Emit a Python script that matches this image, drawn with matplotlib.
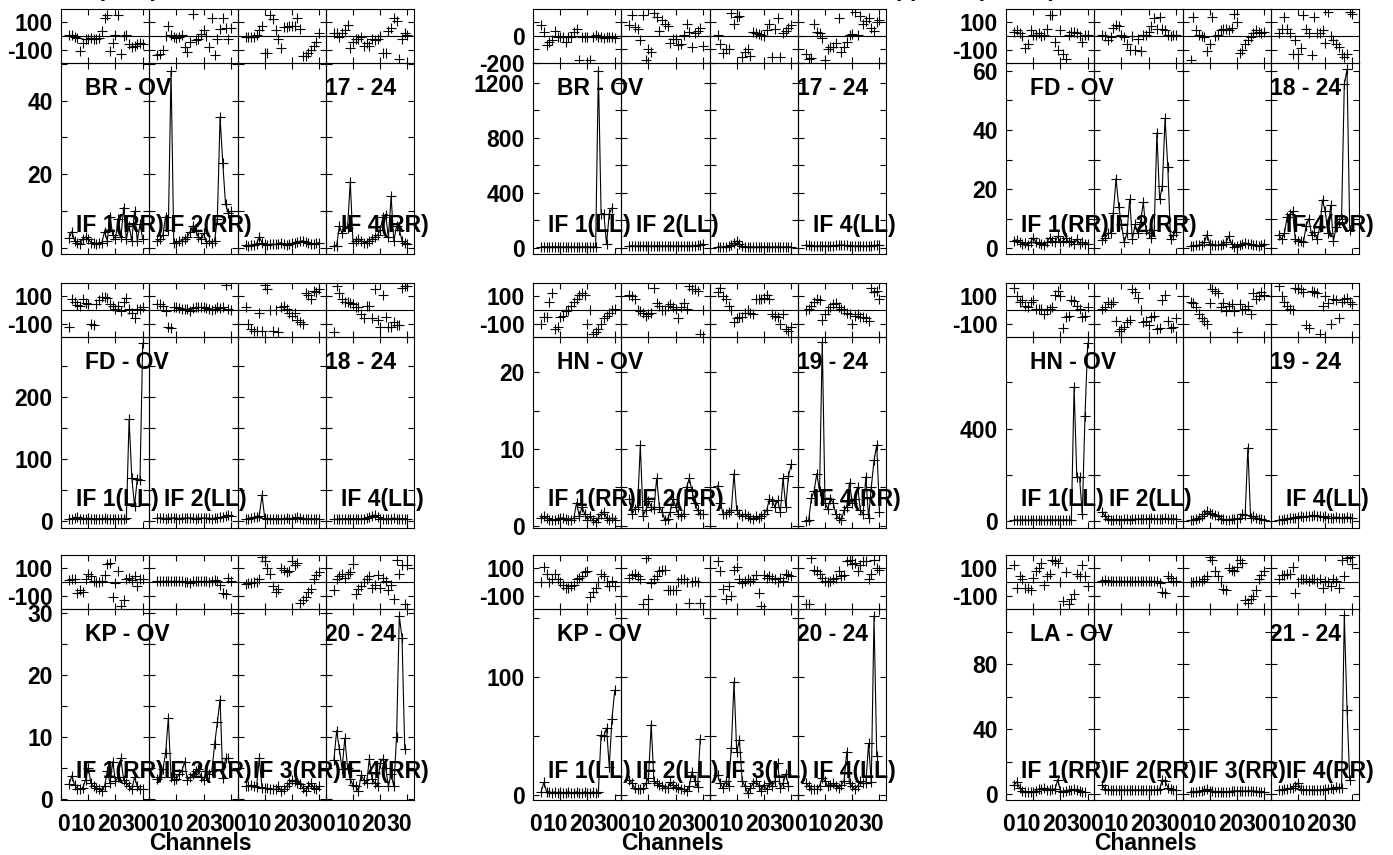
import numpy as np
import matplotlib.pyplot as plt
import matplotlib.transforms as mtransforms

plt.rcParams['font.family'] = ['Liberation Sans', 'DejaVu Sans']
plt.rcParams['font.weight'] = 'bold'

# Canaux et IF
first_channel = 3
if_names = ['IF 1', 'IF 2', 'IF 3', 'IF 4']

# BR - OV, RR
br_ov_rr_amp = [
    [2.7, 4.5, 2.0, 1.5, 1.0, 2.5, 3.0, 2.5, 1.5, 1.5, 1.2, 1.5, 1.5, 4.5, 2.0, 8.5, 3.5, 2.5, 8.0, 3.0, 11.0, 2.5, 6.0, 2.0, 10.0, 2.0, 6.5, 2.5],
    [1.8, 2.5, 3.5, 8.5, 5.0, 48.0, 1.5, 1.5, 1.8, 2.0, 2.5, 3.0, 4.5, 6.0, 5.0, 3.0, 2.5, 4.0, 1.5, 2.0, 1.5, 2.0, 8.0, 35.5, 23.0, 12.0, 9.5, 10.0],
    [0.8, 0.7, 0.8, 0.9, 1.2, 3.0, 1.5, 1.0, 0.9, 1.0, 1.1, 1.0, 1.2, 1.5, 1.0, 0.8, 1.1, 1.3, 1.5, 1.6, 1.8, 2.0, 1.7, 1.5, 1.2, 1.0, 1.3, 1.5],
    [0.6, 0.7, 6.0, 4.0, 6.0, 5.5, 18.0, 1.5, 2.0, 2.5, 2.0, 1.5, 1.5, 2.0, 2.5, 3.0, 3.5, 5.0, 8.5, 9.0, 3.0, 14.0, 2.0, 6.0, 5.0, 2.0, 1.5, 1.0],
]
br_ov_rr_phase = [
    [10, 10, -5, -15, -110, -50, -25, -20, -15, -20, -25, -15, 35, 130, 150, -110, -50, 5, 155, -130, 0, 5, -55, -80, -75, -60, -50, -55],
    [-135, -130, -100, 0, 70, 10, -5, -15, -10, 5, -80, -115, -40, 160, -30, -20, 15, 40, 0, -80, 130, -140, -20, 50, 130, 60, -20, 60],
    [-10, -10, -10, -10, 10, 40, 70, -120, -120, 150, 120, 40, -25, -85, 65, 65, 70, 70, 75, 130, 50, -145, -145, -120, -100, -70, -40, 20],
    [25, 25, -10, 25, 40, 80, -85, -40, -25, -20, -5, -75, -50, -75, -20, -30, -20, 0, -120, -125, 35, 60, 130, 105, -165, -20, 20, 10],
]

# BR - OV, LL
br_ov_ll_amp = [
    [8, 9, 8, 7, 8, 9, 8, 8, 7, 8, 8, 9, 8, 7, 8, 8, 9, 8, 8, 7, 8, 1290, 250, 250, 30, 250, 290],
    [15, 16, 15, 14, 15, 16, 15, 15, 14, 15, 16, 15, 14, 15, 15, 16, 15, 14, 15, 15, 16, 15, 14, 15, 16, 18, 22, 30],
    [8, 7, 8, 10, 14, 22, 35, 50, 30, 12, 8, 7, 8, 8, 7, 8, 8, 9, 8, 7, 8, 8, 9, 8, 7, 8, 8, 8],
    [20, 18, 15, 12, 15, 14, 16, 15, 14, 15, 16, 18, 20, 22, 20, 18, 16, 15, 14, 15, 16, 15, 14, 15, 16, 18, 20, 22],
]
br_ov_ll_phase = [
    [80, 30, -70, -45, -30, 40, -10, -10, -10, -45, -5, -5, 30, 55, -180, -5, -5, -5, -175, -5, 10, -5, -10, -15, -10, -5, -10, -15],
    [80, 155, 70, 55, -30, 155, -180, -100, -120, 170, 140, 40, 120, 90, 75, -50, -20, -25, -70, -60, 10, 90, 30, -80, 20, 40, 60, -75],
    [5, -58, -128, -100, -100, 168, 92, 140, 150, -152, -120, -95, -145, 30, 22, 18, 8, 0, 42, 90, -158, 55, 130, -158, 20, 40, 60, 80],
    [-132, -170, -162, 88, 30, 22, -12, -180, -95, -85, -82, -55, 130, -120, -85, -45, 5, 18, 180, 5, 150, 90, 110, 130, 60, 40, 100, 120],
]

# FD - OV, RR
fd_ov_rr_amp = [
    [2.5, 2.8, 2.0, 1.5, 1.8, 1.2, 2.0, 3.5, 2.0, 1.8, 1.5, 1.2, 2.0, 3.5, 2.5, 2.0, 4.0, 2.0, 2.5, 3.5, 2.0, 2.5, 1.5, 3.0, 1.5, 2.0, 1.5, 1.5],
    [2.8, 3.5, 5.0, 5.0, 12.0, 23.5, 14.0, 8.0, 2.0, 5.0, 16.5, 3.0, 8.0, 5.0, 9.0, 15.5, 6.0, 5.0, 3.5, 6.0, 39.0, 16.5, 21.0, 44.0, 27.5, 3.0, 4.5, 5.5],
    [0.8, 0.8, 0.9, 1.0, 1.2, 2.0, 4.5, 1.5, 1.2, 1.0, 1.0, 1.2, 1.5, 2.0, 4.0, 1.5, 0.5, 0.6, 1.0, 1.5, 1.8, 1.5, 1.3, 1.2, 1.0, 0.8, 1.0, 1.5],
    [4.5, 3.0, 5.0, 10.5, 11.5, 12.5, 3.0, 2.5, 2.5, 2.0, 7.5, 10.0, 4.5, 5.5, 3.0, 7.0, 16.3, 12.5, 5.0, 14.5, 2.5, 7.0, 9.0, 10.0, 55.5, 60.5, 6.0],
]
fd_ov_rr_phase = [
    [30, 40, 20, 0, -90, -60, 40, 10, 10, 20, 0, 10, 50, 150, 150, -40, -100, 40, -130, -165, 10, 30, 30, 20, 0, -40, 5, 5],
    [5, 0, -30, -10, 60, 80, 70, 10, -10, -60, -100, 0, -100, -20, -110, 5, 10, 30, 70, 130, 50, 140, 50, 40, 5, 0, 5, 5],
    [-170, 135, 40, 10, 0, -10, -110, -55, 135, 0, 10, 40, 50, 50, 40, 60, 160, 100, -125, -100, -60, -30, -10, 20, 40, 30, 20, 30],
    [20, 50, 140, 50, 20, -130, -30, -130, -90, 150, 50, 20, -140, 140, 20, 20, 40, -50, 170, 0, -30, -60, -80, -130, -150, -130, 170, 160],
]

# FD - OV, LL
fd_ov_ll_amp = [
    [4, 4, 5, 6, 4, 4, 4, 5, 4, 4, 4, 4, 4, 5, 4, 4, 4, 4, 4, 4, 4, 5, 164, 70, 25, 68, 66, 287],
    [5, 5, 5, 4, 5, 5, 5, 5, 4, 5, 5, 5, 5, 5, 4, 5, 5, 5, 5, 5, 4, 5, 5, 6, 7, 9, 10, 8],
    [3, 4, 5, 6, 7, 9, 42, 5, 4, 4, 4, 4, 4, 4, 4, 5, 4, 4, 5, 6, 5, 4, 4, 4, 4, 4, 4, 4],
    [3, 3, 4, 4, 4, 4, 4, 4, 4, 4, 4, 4, 5, 6, 8, 10, 7, 4, 4, 4, 4, 4, 5, 4, 4, 4, 4, 4],
]
fd_ov_ll_phase = [
    [-125, 80, 55, 35, 30, 80, 50, 40, -100, -105, 40, 75, 95, 95, 90, 40, 30, 10, 30, -10, 60, 85, 10, -25, -55, 10, 10, 20],
    [40, 40, 30, -10, -120, -130, 20, 20, 15, 10, 10, 5, -10, 15, 20, 20, 20, 20, 15, 10, 0, 10, 20, 15, 20, 180, 10, 0],
    [25, -100, -140, -150, -150, -20, -150, 180, 150, 0, -150, 0, -160, 20, 30, 10, -20, -40, -20, -70, -90, -100, 120, 110, 80, 140, 130, 150],
    [-160, 170, 120, 80, 60, 60, 50, 40, 20, 20, -30, -60, 30, 30, -60, 150, -70, -120, 110, -50, -120, -120, -90, -110, -110, 160, 170, 170],
]

# HN - OV, RR
hn_ov_rr_amp = [
    [1.0, 1.2, 1.0, 0.8, 0.8, 0.8, 0.9, 1.0, 1.0, 0.9, 0.7, 0.8, 1.0, 3.0, 1.2, 2.5, 1.5, 0.8, 1.2, 0.8, 0.5, 1.0, 1.5, 1.8, 1.0, 0.8, 1.0, 0.8],
    [3.5, 1.5, 2.2, 2.5, 10.5, 1.3, 2.0, 3.2, 2.5, 2.2, 6.2, 2.5, 1.8, 0.8, 0.9, 1.8, 3.5, 2.5, 1.5, 1.3, 1.5, 5.0, 6.2, 4.5, 3.0, 2.0, 1.5, 1.5],
    [5.2, 3.0, 1.5, 1.5, 1.8, 2.0, 6.8, 2.0, 1.5, 1.3, 1.5, 1.2, 1.0, 0.9, 1.2, 1.0, 1.3, 1.5, 2.0, 3.5, 3.2, 2.5, 3.3, 1.8, 6.2, 2.5, 6.5, 8.0],
    [0.6, 0.7, 3.6, 4.5, 6.8, 4.5, 24.0, 3.0, 2.2, 3.5, 3.0, 1.5, 1.0, 0.7, 2.0, 2.5, 5.6, 3.0, 3.5, 5.0, 2.0, 1.5, 6.4, 1.0, 5.0, 8.5, 10.5, 1.8],
]
hn_ov_rr_phase = [
    [-100, -50, -50, 60, 120, -140, -120, -50, -40, -10, 0, 30, 60, 80, 110, 120, 110, -100, 0, -170, -160, -140, -100, -60, -40, -20, 0, 10],
    [110, 100, 80, 0, -10, -20, -40, -30, -20, 160, 50, 30, 0, 0, 30, 40, 20, 10, -60, 20, 50, 10, 170, 150, 150, 140, -170, 0],
    [130, 160, 100, 80, 30, 0, -90, -60, -50, -50, -20, 0, -20, -30, 80, 80, 80, 90, 110, 80, -30, -40, -50, -100, -30, -140, -150, -120],
    [0, 10, 30, 60, 80, 70, -70, -30, 0, 20, 40, 50, 20, 10, 0, -20, -30, -100, -40, -30, -50, -50, -60, -80, 160, 130, 140, 80],
]

# HN - OV, LL
hn_ov_ll_amp = [
    [5, 5, 4, 5, 5, 4, 5, 5, 4, 5, 5, 4, 5, 5, 4, 5, 5, 4, 5, 5, 4, 5, 580, 190, 190, 30, 455, 770],
    [40, 20, 8, 6, 6, 7, 6, 6, 7, 8, 6, 7, 8, 9, 10, 8, 9, 10, 12, 10, 9, 8, 10, 12, 10, 8, 9, 10],
    [3, 5, 8, 15, 20, 30, 45, 35, 30, 25, 20, 10, 8, 5, 6, 8, 10, 8, 12, 30, 25, 318, 15, 20, 15, 10, 8, 5],
    [5, 6, 8, 10, 12, 15, 15, 18, 20, 18, 20, 20, 22, 25, 22, 20, 18, 20, 15, 12, 15, 18, 15, 12, 15, 18, 15, 12],
]
hn_ov_ll_phase = [
    [160, 100, 60, 75, 30, 20, 60, 70, 10, 10, 10, -30, 0, 10, 20, 110, 140, 100, -130, -50, -40, 70, 65, 30, 5, -50, -40, 20],
    [10, 20, 60, 40, 60, -80, -150, -140, -120, -90, -70, 150, 130, 90, 0, -90, -80, -110, -50, -40, -140, -130, 70, 110, -80, -130, -120, -60],
    [60, 50, 20, -30, -60, -80, -100, 50, 150, 140, 120, 20, 50, -10, 30, 40, -10, -160, 40, 0, 10, 30, -30, 120, 80, 100, 130, 110],
    [170, 100, 60, 30, 10, 0, 160, 155, 150, 130, -110, -130, 140, 130, 120, -170, 30, 100, 50, -100, 80, 70, -60, 60, 80, 90, 60, 40],
]

# KP - OV, RR
kp_ov_rr_amp = [
    [2.4, 3.7, 2.2, 1.6, 1.5, 1.8, 3.0, 5.0, 2.5, 2.0, 1.8, 1.5, 1.3, 2.0, 4.5, 2.5, 6.0, 2.8, 3.5, 6.5, 3.0, 2.5, 2.0, 1.5, 3.5, 2.0, 1.5, 1.5],
    [3.2, 3.5, 4.8, 7.3, 13.0, 3.5, 3.0, 3.2, 4.0, 4.5, 6.0, 3.0, 3.5, 4.0, 4.5, 4.8, 3.5, 3.0, 4.5, 4.0, 4.5, 8.8, 12.3, 16.0, 3.3, 6.5, 6.5],
    [2.0, 2.0, 2.2, 2.0, 1.9, 6.5, 1.8, 1.8, 1.7, 1.6, 1.5, 1.5, 2.0, 1.3, 1.5, 2.0, 2.5, 3.0, 2.8, 2.6, 2.3, 1.8, 1.2, 2.0, 2.5, 1.8, 1.5, 2.0],
    [6.3, 11.0, 8.0, 4.8, 9.8, 5.0, 3.2, 2.2, 2.0, 1.3, 3.8, 3.0, 2.5, 6.4, 3.2, 2.5, 2.0, 5.8, 6.4, 5.0, 2.0, 4.0, 2.0, 10.0, 29.4, 26.0, 8.1],
]
kp_ov_rr_phase = [
    [15, 25, 20, -80, -60, -70, 20, 60, 40, 10, 0, 0, 5, 50, 130, 140, -110, -10, 80, -170, -130, 20, 30, 15, 40, -30, 20, 20],
    [10, 10, 10, 10, 10, 5, 5, 5, 5, 5, 0, 0, -5, 5, 5, 10, 5, 10, 10, 0, 10, 15, 10, -20, -80, -90, 30, 10],
    [-15, -10, -5, 0, 0, 20, 180, 150, 100, 55, -30, -70, -50, 100, 90, 70, 80, 150, 125, 140, -150, -130, -110, -70, -50, 20, 50, 70],
    [-60, 20, 40, 60, 30, 60, 70, 130, -90, -50, -30, 0, 20, 40, -40, -20, 50, -40, 30, 10, -60, -20, -120, 160, 60, 120, -160, 120],
]

# KP - OV, LL
kp_ov_ll_amp = [
    [3, 11, 3, 3, 2, 3, 2, 3, 2, 2, 3, 2, 2, 3, 2, 2, 3, 2, 2, 3, 2, 3, 51, 50, 57, 24, 65, 89],
    [13, 10, 6, 5, 5, 6, 10, 15, 60, 12, 10, 9, 8, 6, 6, 11, 9, 7, 6, 5, 5, 4, 8, 20, 12, 7, 48],
    [17, 10, 6, 12, 8, 40, 96, 37, 47, 12, 8, 2, 6, 10, 12, 8, 4, 9, 5, 10, 8, 12, 27, 6, 10, 18, 8],
    [10, 8, 5, 5, 5, 8, 15, 12, 8, 9, 10, 8, 6, 9, 12, 37, 10, 8, 5, 8, 12, 10, 10, 44, 11, 152, 33],
]
kp_ov_ll_phase = [
    [0, 110, 60, 0, 20, 60, 20, 0, -20, -40, -40, -30, -20, 20, 30, 40, 70, 80, -110, -70, -40, 0, 60, 40, 0, -30, 10, -30],
    [30, 50, 60, 40, 20, -160, 170, -120, -10, 20, 40, 80, 90, 90, -60, -60, -60, -60, 0, 20, 20, 0, -150, 0, 10, 0, -150],
    [150, 80, -50, -120, -30, -100, 90, 110, 20, -10, 10, 20, 10, 20, 50, -80, -170, 50, 30, 40, 30, 20, 0, 30, 10, 60, 50, 40],
    [-160, -160, 170, 90, 80, 60, 30, 10, 0, 10, 20, 30, 80, 40, 50, 150, 160, 130, 140, 80, 120, 150, 150, 20, 60, 160, 100, 90],
]

# LA - OV, RR
la_ov_rr_amp = [
    [5.7, 7.5, 3.5, 2.0, 1.5, 1.5, 1.5, 1.5, 2.0, 3.0, 3.0, 3.5, 2.5, 2.5, 3.0, 3.0, 8.8, 2.0, 1.5, 2.0, 2.5, 2.5, 3.0, 2.5, 2.0, 1.5, 1.5],
    [5.5, 3.0, 2.5, 2.5, 2.5, 2.5, 2.5, 2.5, 2.5, 2.5, 2.5, 2.5, 2.5, 2.5, 2.5, 2.5, 2.5, 2.5, 2.5, 2.5, 2.5, 3.0, 8.8, 8.0, 4.0, 3.0, 2.5, 2.5],
    [1.5, 1.5, 1.5, 1.8, 2.0, 2.2, 3.0, 2.0, 1.8, 1.5, 1.5, 1.5, 1.5, 1.5, 1.5, 1.8, 1.8, 2.0, 2.0, 1.8, 1.8, 2.0, 2.0, 1.8, 1.8, 1.5, 1.5, 1.5],
    [2.5, 2.5, 3.0, 3.0, 3.5, 4.0, 5.0, 6.7, 3.0, 2.5, 2.5, 2.5, 2.5, 2.5, 2.5, 2.5, 2.5, 3.0, 3.0, 3.5, 3.0, 4.3, 4.0, 3.7, 110, 52, 8.8],
]
la_ov_rr_phase = [
    [120, -40, 40, 20, -40, -40, -60, 30, 80, 100, 140, -20, 40, 60, 160, 150, 140, 0, -140, 70, -160, -120, -90, 60, 40, 120, 40, -30],
    [10, 15, 10, 10, 10, 10, 10, 5, 5, 5, 5, 5, 10, 10, 10, 5, 10, 10, 5, 10, 10, -10, -70, -80, 40, 30, 10, 10],
    [0, 0, 10, 10, 10, 20, 40, 180, 160, 80, 40, 0, -50, -60, 100, 90, 80, 110, 160, 140, -130, -150, -120, -100, -60, 20, 50, 80],
    [20, 50, 50, 60, 60, 110, -80, 0, 20, 20, 20, 10, 20, 20, 0, 20, -40, 10, 0, -30, 20, 10, -40, 160, 40, 170, 180, 130],
]

groups = [
    dict(base='BR - OV', times='17 - 24', pol='RR', amp=br_ov_rr_amp, phase=br_ov_rr_phase,
         ylim=(-1.6, 50.2), ystep=10, ylab=[0, 20, 40], plim=195, ptick=[-100, 100], if_lab=[0, 1, 3]),
    dict(base='BR - OV', times='17 - 24', pol='LL', amp=br_ov_ll_amp, phase=br_ov_ll_phase,
         ylim=(-44, 1345), ystep=200, ylab=[0, 400, 800, 1200], plim=200, ptick=[-200, 0], if_lab=[0, 1, 3]),
    dict(base='FD - OV', times='18 - 24', pol='RR', amp=fd_ov_rr_amp, phase=fd_ov_rr_phase,
         ylim=(-2, 62.7), ystep=10, ylab=[0, 20, 40, 60], plim=195, ptick=[-100, 100], if_lab=[0, 1, 3]),
    dict(base='FD - OV', times='18 - 24', pol='LL', amp=fd_ov_ll_amp, phase=fd_ov_ll_phase,
         ylim=(-11, 297), ystep=50, ylab=[0, 100, 200], plim=195, ptick=[-100, 100], if_lab=[0, 1, 3]),
    dict(base='HN - OV', times='19 - 24', pol='RR', amp=hn_ov_rr_amp, phase=hn_ov_rr_phase,
         ylim=(-0.3, 24.6), ystep=5, ylab=[0, 10, 20], plim=195, ptick=[-100, 100], if_lab=[0, 1, 3]),
    dict(base='HN - OV', times='19 - 24', pol='LL', amp=hn_ov_ll_amp, phase=hn_ov_ll_phase,
         ylim=(-30, 797), ystep=200, ylab=[0, 400], plim=195, ptick=[-100, 100], if_lab=[0, 1, 3]),
    dict(base='KP - OV', times='20 - 24', pol='RR', amp=kp_ov_rr_amp, phase=kp_ov_rr_phase,
         ylim=(-0.2, 30.6), ystep=5, ylab=[0, 10, 20, 30], plim=195, ptick=[-100, 100], if_lab=[0, 1, 2, 3]),
    dict(base='KP - OV', times='20 - 24', pol='LL', amp=kp_ov_ll_amp, phase=kp_ov_ll_phase,
         ylim=(-4, 158), ystep=50, ylab=[0, 100], plim=195, ptick=[-100, 100], if_lab=[0, 1, 2, 3]),
    dict(base='LA - OV', times='21 - 24', pol='RR', amp=la_ov_rr_amp, phase=la_ov_rr_phase,
         ylim=(-3.7, 114), ystep=20, ylab=[0, 40, 80], plim=195, ptick=[-100, 100], if_lab=[0, 1, 2, 3]),
]

title = 'Amp. & phase vs. channel,  Source: 0J287,  Calibrated data, CL table 2,  BP applied  (all IFs)'

W, H = 1393, 855
fig = plt.figure(figsize=(W / 100, H / 100), dpi=100)


def rect(x, y, w, h):
    return [x / W, 1 - (y + h) / H, w / W, h / H]


col_left = [61, 533, 1006]
row_top = [9, 283, 555]
sub_w = 88.25
phase_h = 54
amp_h = 191
fs = 16.5
# décalage (px) des étiquettes 0, 10, 20, 30 comme dans l'original
xlab_shift = [2.5, -5, -6, -8.5]


def style(ax):
    ax.set_facecolor('none')
    for s in ax.spines.values():
        s.set_linewidth(0.8)
    ax.tick_params(direction='in', top=True, right=True, length=4, width=0.8,
                   labelsize=fs)
    ax.set_xlim(0, 32.4)


for k, g in enumerate(groups):
    col, row = k % 3, k // 3
    for j in range(4):
        x0 = col_left[col] + j * sub_w
        axp = fig.add_axes(rect(x0, row_top[row], sub_w, phase_h))
        axa = fig.add_axes(rect(x0, row_top[row] + phase_h, sub_w, amp_h))
        style(axp)
        style(axa)

        ph = g['phase'][j]
        axp.axhline(0, color='black', lw=0.8)
        axp.plot(np.arange(first_channel, first_channel + len(ph)), ph, '+',
                 color='black', ms=7, mew=0.8)
        axp.set_ylim(-g['plim'], g['plim'])
        pt = sorted(set(g['ptick'] + [-100, 100]))
        axp.set_yticks(pt)
        axp.set_xticks([10, 20, 30])
        axp.set_xticklabels([])

        am = g['amp'][j]
        axa.plot(np.arange(first_channel, first_channel + len(am)), am, '-',
                 color='black', lw=0.8, marker='+', ms=7, mew=0.8)
        axa.set_ylim(*g['ylim'])
        yt = np.arange(0, g['ylim'][1], g['ystep'])
        axa.set_yticks(yt)

        if row == 2:
            axa.set_xticks([0, 10, 20, 30])
            axa.set_xticklabels(['0', '10', '20', '30'], fontweight='bold')
            axa.tick_params(axis='x', pad=9)
            for lab, dx in zip(axa.get_xticklabels(), xlab_shift):
                lab.set_transform(lab.get_transform() +
                                  mtransforms.ScaledTranslation(dx / 100, 0, fig.dpi_scale_trans))
        else:
            axa.set_xticks([10, 20, 30])
            axa.set_xticklabels([])

        if j == 0:
            axp.set_yticklabels([str(t) if t in g['ptick'] else '' for t in pt],
                                fontweight='bold')
            axa.set_yticklabels([str(int(t)) if int(t) in g['ylab'] else '' for t in yt],
                                fontweight='bold')
            axp.tick_params(axis='y', pad=6)
            axa.tick_params(axis='y', pad=6)
            axa.text(24 / sub_w, 0.864, g['base'], transform=axa.transAxes,
                     fontsize=fs, fontweight='bold', ha='left', va='center', zorder=5)
        else:
            axp.set_yticklabels([])
            axa.set_yticklabels([])

        if j == 3:
            axa.text(-0.01, 0.864, g['times'], transform=axa.transAxes,
                     fontsize=fs, fontweight='bold', ha='left', va='center', zorder=5)

        if j in g['if_lab']:
            axa.text(0.17, 0.15, f"{if_names[j]}({g['pol']})", transform=axa.transAxes,
                     fontsize=fs, fontweight='bold', ha='left', va='center', zorder=5)

    if row == 2:
        fig.text((col_left[col] + 139) / W, 1 - 843 / H, 'Channels', fontsize=fs,
                 fontweight='bold', ha='center', va='center')

# titre coupé en haut de l'image, comme dans l'original
fig.text(63 / W, 1 + 4 / H, title, fontsize=fs, fontweight='bold', ha='left', va='baseline')

plt.savefig('out.png', dpi=100)
